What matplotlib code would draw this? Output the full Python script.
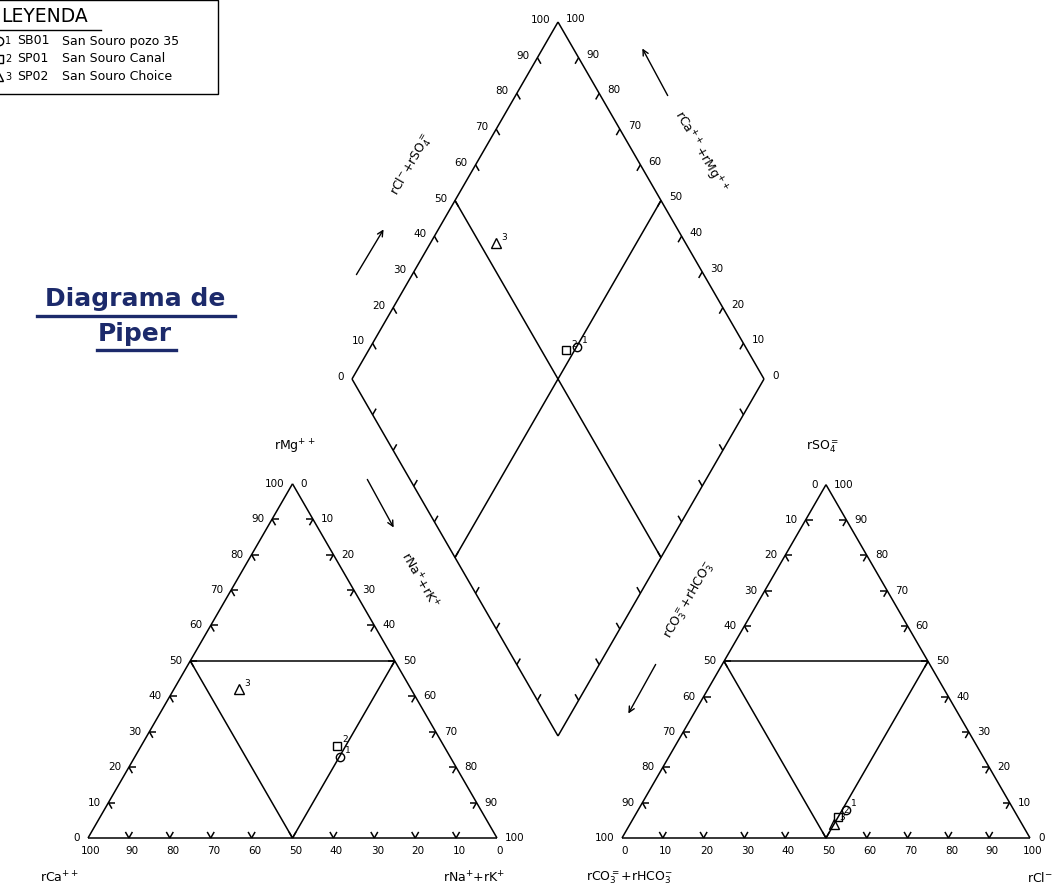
import numpy as np
import matplotlib
matplotlib.use("Agg")
import matplotlib.pyplot as plt
from matplotlib.patches import Rectangle

# ---------------- data (percent of meq) ----------------
sample_ids = ["1", "2", "3"]
sample_codes = ["SB01", "SP01", "SP02"]
sample_names = ["San Souro pozo 35", "San Souro Canal", "San Souro Choice"]
ca = [27, 26, 42]
mg = [23, 26, 42]
na_k = [50, 48, 16]
hco3 = [41, 44, 46]
so4 = [8, 6, 4]
cl = [51, 50, 50]
markers = ["o", "s", "^"]
tick_values = [0, 10, 20, 30, 40, 50, 60, 70, 80, 90, 100]

# ---------------- geometry (pixel space) ----------------
fig = plt.figure(figsize=(10.55, 8.9), dpi=100)
ax = fig.add_axes([0, 0, 1, 1])
ax.set_xlim(0, 1055)
ax.set_ylim(890, 0)
ax.axis("off")

S3 = np.sqrt(3) / 2
LC = dict(bl=np.array([88.0, 838.0]), br=np.array([497.0, 838.0]))
LC["ap"] = np.array([(88 + 497) / 2, 838 - 409 * S3])
RC = dict(bl=np.array([622.0, 838.0]), br=np.array([1030.0, 838.0]))
RC["ap"] = np.array([(622 + 1030) / 2, 838 - 408 * S3])
DB = np.array([558.0, 736.0])
VR = np.array([206.0, -357.0])
VL = np.array([-206.0, -357.0])

LW = 1.1
FS = 7.5
col = "black"


def tern(T, a_bl, a_br, a_ap):
    return (a_bl * T["bl"] + a_br * T["br"] + a_ap * T["ap"]) / 100.0


def dia(a, b):
    return DB + a / 100.0 * VR + b / 100.0 * VL


def seg(p, q, **kw):
    ax.plot([p[0], q[0]], [p[1], q[1]], color=col, lw=kw.get("lw", LW),
            solid_capstyle="butt")


def unit(v):
    v = np.asarray(v, float)
    return v / np.linalg.norm(v)


def draw_triangle(T, left_lab, right_lab, bottom_lab):
    bl, br, ap = T["bl"], T["br"], T["ap"]
    seg(bl, br); seg(br, ap); seg(ap, bl)
    mid_l = (bl + ap) / 2; mid_r = (br + ap) / 2; mid_b = (bl + br) / 2
    seg(mid_l, mid_r); seg(mid_l, mid_b); seg(mid_b, mid_r)
    tl = 7
    for k in range(1, 10):
        f = k / 10
        p = bl + f * (br - bl)
        seg(p, p + tl * unit(ap - bl)); seg(p, p + tl * unit(ap - br))
        p = bl + f * (ap - bl)
        seg(p, p + tl * unit(br - bl)); seg(p, p + tl * unit(br - ap))
        p = br + f * (ap - br)
        seg(p, p + tl * unit(bl - br)); seg(p, p + tl * unit(bl - ap))
    for i, v in enumerate(left_lab):
        f = i / 10
        p = bl + f * (ap - bl)
        ax.text(p[0] - 8, p[1], str(v), ha="right", va="center", fontsize=FS)
    for i, v in enumerate(right_lab):
        f = i / 10
        p = ap + f * (br - ap)
        ax.text(p[0] + 8, p[1], str(v), ha="left", va="center", fontsize=FS)
    for i, v in enumerate(bottom_lab):
        f = i / 10
        p = bl + f * (br - bl)
        ax.text(p[0] + 3, p[1] + 13, str(v), ha="center", va="center", fontsize=FS)


# cation triangle: left side Mg, right side Na+K, bottom Ca
draw_triangle(LC, tick_values, tick_values, tick_values[::-1])
# anion triangle: left side CO3+HCO3, right side SO4, bottom Cl
draw_triangle(RC, tick_values[::-1], tick_values[::-1], tick_values)

# ---------------- diamond ----------------
left_v = DB + VL; right_v = DB + VR; top_v = DB + VR + VL
seg(DB, left_v); seg(left_v, top_v); seg(top_v, right_v); seg(right_v, DB)
seg(dia(50, 100), dia(50, 0)); seg(dia(100, 50), dia(0, 50))
tl = 7
for k in range(1, 10):
    f = k * 10
    p = dia(f, 100); seg(p, p + tl * unit(-VL))
    p = dia(100, f); seg(p, p + tl * unit(-VR))
    p = dia(f, 0); seg(p, p + tl * unit(VL))
    p = dia(0, f); seg(p, p + tl * unit(VR))
for v in tick_values:
    p = dia(v, 100)
    ax.text(p[0] - 8, p[1] - 2, str(v), ha="right", va="center", fontsize=FS)
    p = dia(100, v)
    ax.text(p[0] + 8, p[1] - 3, str(v), ha="left", va="center", fontsize=FS)

# ---------------- axis titles ----------------
TFS = 9
ax.text(295, 447, r"rMg$^{++}$", ha="center", va="center", fontsize=TFS)
ax.text(40, 878, r"rCa$^{++}$", ha="left", va="center", fontsize=TFS)
ax.text(505, 878, r"rNa$^{+}$+rK$^{+}$", ha="right", va="center", fontsize=TFS)
ax.text(823, 447, r"rSO$_4^{=}$", ha="center", va="center", fontsize=TFS)
ax.text(586, 878, r"rCO$_3^{=}$+rHCO$_3^{-}$", ha="left", va="center", fontsize=TFS)
ax.text(1053, 878, r"rCl$^{-}$", ha="right", va="center", fontsize=TFS)

ax.text(412, 165, r"rCl$^{-}$+rSO$_4^{=}$", ha="center", va="center", fontsize=TFS, rotation=60)
ax.text(700, 152, r"rCa$^{++}$+rMg$^{++}$", ha="center", va="center", fontsize=TFS, rotation=-60)
ax.text(420, 580, r"rNa$^{+}$+rK$^{+}$", ha="center", va="center", fontsize=TFS, rotation=-60)
ax.text(690, 600, r"rCO$_3^{=}$+rHCO$_3^{-}$", ha="center", va="center", fontsize=TFS, rotation=60)

ap = dict(arrowstyle="->", lw=1, color=col, mutation_scale=10)
ax.annotate("", xy=(385, 227), xytext=(355, 277), arrowprops=ap)
ax.annotate("", xy=(641, 46), xytext=(669, 98), arrowprops=ap)
ax.annotate("", xy=(395, 530), xytext=(366, 477), arrowprops=ap)
ax.annotate("", xy=(627, 716), xytext=(657, 662), arrowprops=ap)

# ---------------- samples ----------------
for i in range(len(sample_ids)):
    pts = [tern(LC, ca[i], na_k[i], mg[i]),
           tern(RC, hco3[i], cl[i], so4[i]),
           dia(cl[i] + so4[i], ca[i] + mg[i])]
    for p in pts:
        ax.plot(p[0], p[1], marker=markers[i], ms=6 if markers[i] != "^" else 6.5,
                mfc="none", mec=col, mew=1.0, ls="none")
        ax.text(p[0] + 5, p[1] - 6, sample_ids[i], fontsize=6.5, ha="left", va="center")

# ---------------- title ----------------
tcol = "#1c2a6b"
ax.text(135, 299, "Diagrama de", ha="center", va="center", fontsize=18,
        color=tcol, family="DejaVu Sans", fontweight="bold")
ax.plot([37, 235], [316, 316], color=tcol, lw=2.4)
ax.text(135, 334, "Piper", ha="center", va="center", fontsize=18,
        color=tcol, family="DejaVu Sans", fontweight="bold")
ax.plot([97, 176], [350, 350], color=tcol, lw=2.4)

# ---------------- legend ----------------
ax.add_patch(Rectangle((-2, 0), 220, 94, fill=False, ec=col, lw=1))
ax.text(1, 17, "LEYENDA", fontsize=13.5, ha="left", va="center")
ax.plot([0, 101], [30, 30], color=col, lw=1)
for i in range(len(sample_ids)):
    y = 41 + 18 * i
    ax.plot(-1, y, marker=markers[i], ms=6, mfc="none", mec=col, mew=1, ls="none",
            clip_on=True)
    ax.text(5, y, sample_ids[i], fontsize=7, ha="left", va="center")
    ax.text(17, y, sample_codes[i], fontsize=9, ha="left", va="center")
    ax.text(62, y, sample_names[i], fontsize=9, ha="left", va="center")

fig.savefig("out.png", dpi=100)
